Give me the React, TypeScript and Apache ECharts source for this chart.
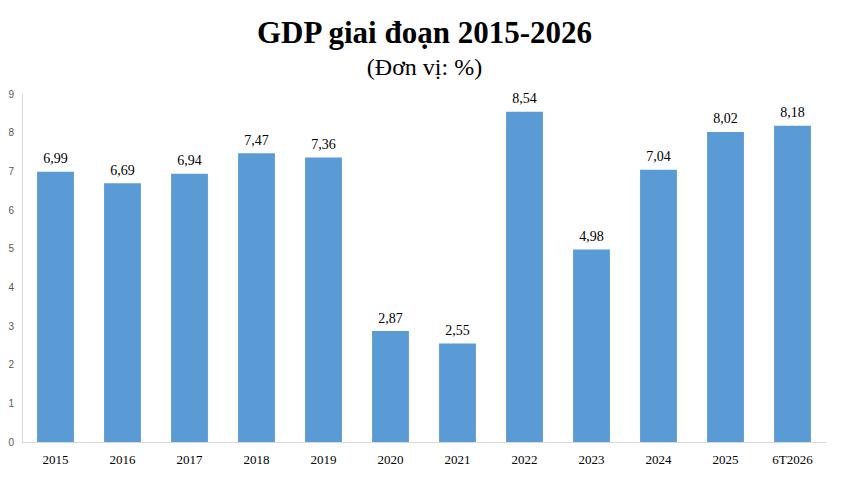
import * as echarts from "echarts";
import { useEffect, useRef } from "react";

const years = ["2015", "2016", "2017", "2018", "2019", "2020", "2021", "2022", "2023", "2024", "2025", "6T2026"];
const gdp = [6.99, 6.69, 6.94, 7.47, 7.36, 2.87, 2.55, 8.54, 4.98, 7.04, 8.02, 8.18];

export default function App() {
  const ref = useRef<HTMLDivElement>(null);

  useEffect(() => {
    document.body.style.margin = "0";
    if (!ref.current) return;
    const chart = echarts.init(ref.current, undefined, { renderer: "svg" });
    chart.setOption({
      animation: false,
      backgroundColor: "#fff",
      title: [
        {
          text: "GDP giai đoạn 2015-2026",
          left: "center",
          top: 12,
          textStyle: { fontFamily: "Liberation Serif", fontSize: 31, fontWeight: "bold", color: "#000" },
        },
        {
          text: "(Đơn vị: %)",
          left: "center",
          top: 50,
          textStyle: { fontFamily: "Liberation Serif", fontSize: 24, fontWeight: "normal", color: "#000" },
        },
      ],
      grid: { left: 22, right: 23, top: 94, bottom: 47 },
      xAxis: {
        type: "category",
        data: years,
        axisTick: { show: false },
        axisLine: { lineStyle: { color: "#d9d9d9" } },
        axisLabel: { fontFamily: "Liberation Serif", fontSize: 13, color: "#000", margin: 11 },
      },
      yAxis: {
        type: "value",
        min: 0,
        max: 9,
        interval: 1,
        splitLine: { show: false },
        axisLine: { show: true, lineStyle: { color: "#d9d9d9" } },
        axisLabel: { fontFamily: "Liberation Sans", fontSize: 10, color: "#595959", margin: 8 },
      },
      series: [
        {
          type: "bar",
          data: gdp,
          barWidth: "55%",
          itemStyle: { color: "#5B9BD5" },
          label: {
            show: true,
            position: "top",
            distance: 6,
            formatter: (p: any) => p.value.toFixed(2).replace(".", ","),
            fontFamily: "Liberation Serif",
            fontSize: 14,
            color: "#000",
          },
        },
      ],
    });
    return () => chart.dispose();
  }, []);

  return <div ref={ref} style={{ width: 849, height: 489 }} />;
}
